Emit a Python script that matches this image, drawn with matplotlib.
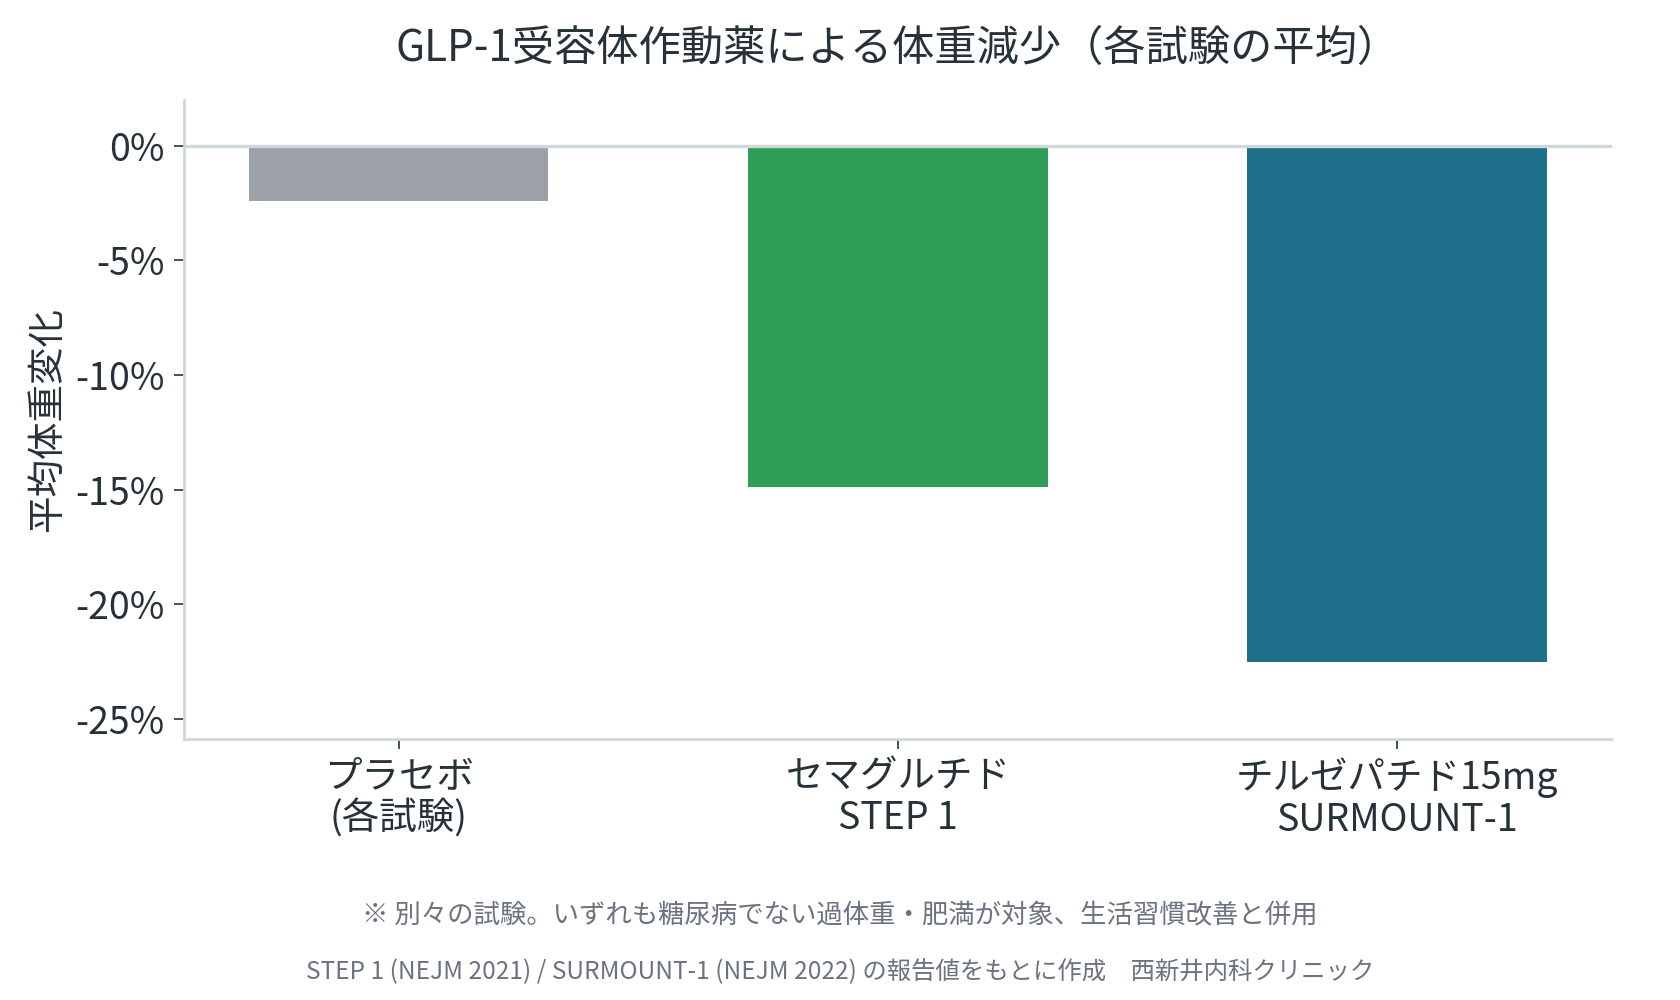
import matplotlib.pyplot as plt

plt.rcParams['font.family'] = ['Noto Sans CJK JP', 'DejaVu Sans']

# データ(各試験の報告値、平均体重変化 %)
labels = ['プラセボ\n(各試験)', 'セマグルチド\nSTEP 1', 'チルゼパチド15mg\nSURMOUNT-1']
values = [-2.4, -14.9, -22.5]
colors = ['#9ca0a8', '#2f9e57', '#1f6f8a']
yticks = [0, -5, -10, -15, -20, -25]

text_color = '#263238'
grid_color = '#cfd8dc'

fig = plt.figure(figsize=(8.4, 5), dpi=200)
ax = fig.add_axes([0.1095, 0.261, 0.85, 0.639])

ax.bar(range(len(values)), values, width=0.6, color=colors, zorder=2)
ax.axhline(0, color=grid_color, linewidth=1.2, zorder=3)

ax.set_ylim(min(values) * 1.15, 2)
ax.set_yticks(yticks)
ax.set_yticklabels([f'{v}%' for v in yticks])
ax.set_xticks(range(len(values)))
ax.set_xticklabels(labels, linespacing=1.1)

ax.tick_params(axis='both', colors=text_color, labelsize=13.5, width=0.6)
ax.tick_params(axis='x', pad=3)
ax.set_ylabel('平均体重変化', fontsize=13.5, color=text_color, labelpad=3)

for side in ['top', 'right']:
    ax.spines[side].set_visible(False)
for side in ['left', 'bottom']:
    ax.spines[side].set_color(grid_color)
    ax.spines[side].set_linewidth(1.0)

# タイトルは軸の中央、注記は図の中央
ax.set_title('GLP-1受容体作動薬による体重減少（各試験の平均）',
             fontsize=15.2, color=text_color, pad=14)
fig.text(0.5, 0.084, '※ 別々の試験。いずれも糖尿病でない過体重・肥満が対象、生活習慣改善と併用',
         ha='center', va='center', fontsize=9.5, color='#6b7280')
fig.text(0.5, 0.028, 'STEP 1 (NEJM 2021) / SURMOUNT-1 (NEJM 2022) の報告値をもとに作成\u3000西新井内科クリニック',
         ha='center', va='center', fontsize=8.8, color='#6b7280')

fig.savefig('out.png', dpi=200)
